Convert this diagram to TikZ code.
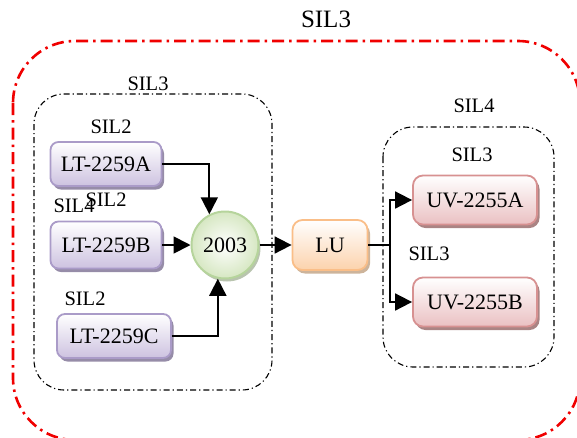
\documentclass[tikz,border=0pt]{standalone}
\usepackage{fontspec}
\setmainfont{Liberation Serif}
\usetikzlibrary{arrows.meta,shadows}

\definecolor{purpleline}{RGB}{170,155,200}
\definecolor{purplefill}{RGB}{205,194,224}
\definecolor{purpleshadow}{RGB}{150,140,168}
\definecolor{greenline}{RGB}{182,212,156}
\definecolor{greenfill}{RGB}{214,231,194}
\definecolor{greenshadow}{RGB}{185,196,175}
\definecolor{orangeline}{RGB}{250,190,136}
\definecolor{orangefill}{RGB}{252,210,172}
\definecolor{orangeshadow}{RGB}{205,180,155}
\definecolor{redline}{RGB}{215,145,145}
\definecolor{redfill}{RGB}{234,192,194}
\definecolor{redshadow}{RGB}{170,132,132}
\definecolor{zonered}{RGB}{240,0,0}

\tikzset{
  unitbox/.style={rounded corners=8pt, line width=1.8pt, inner sep=0pt,
    font=\fontsize{22}{25}\selectfont},
  sensorbox/.style={unitbox, draw=purpleline, top color=white, bottom color=purplefill,
    minimum width=111pt, minimum height=44pt,
    drop shadow={shadow xshift=2.5pt, shadow yshift=-3.5pt, fill=purpleshadow, opacity=1}},
  logicbox/.style={unitbox, draw=orangeline, top color=white, bottom color=orangefill,
    minimum width=75pt, minimum height=50pt, rounded corners=10pt,
    drop shadow={shadow xshift=2.5pt, shadow yshift=-3.5pt, fill=orangeshadow, opacity=1}},
  valvebox/.style={unitbox, draw=redline, top color=white, bottom color=redfill,
    minimum width=124pt, minimum height=49pt, rounded corners=10pt,
    drop shadow={shadow xshift=2.5pt, shadow yshift=-3.5pt, fill=redshadow, opacity=1}},
  voter/.style={circle, draw=greenline, line width=2pt, inner sep=0pt,
    minimum size=67pt, inner color=white, outer color=greenfill,
    font=\fontsize{22}{25}\selectfont,
    drop shadow={shadow xshift=2pt, shadow yshift=-3pt, fill=greenshadow, opacity=1}},
  silmark/.style={font=\fontsize{20.5}{23}\selectfont, inner sep=0pt},
  zone/.style={draw=black, line width=1.1pt, rounded corners=30pt,
    dash pattern=on 6pt off 3pt on 1.2pt off 3pt},
  outerzone/.style={draw=zonered, line width=2.6pt, rounded corners=62pt,
    dash pattern=on 12pt off 5pt on 2.5pt off 5pt},
  flow/.style={draw=black, line width=1.8pt,
    -{Triangle[length=17pt,width=17pt]}},
  plainflow/.style={draw=black, line width=1.8pt},
}

\begin{document}
\begin{tikzpicture}[x=1pt,y=-1pt]
  \useasboundingbox (0,0) rectangle (577,437);
  \clip (0,0) rectangle (577,437);

  % safety zones
  \draw[outerzone] (13,41) rectangle (580,440);
  \draw[zone] (34,94) rectangle (272,390);
  \draw[zone] (383,127) rectangle (554,367);
  \node[inner sep=0pt, font=\fontsize{25}{28}\selectfont] (tSys) at (326,19) {SIL3};
  \node[silmark] (tIn) at (148,84) {SIL3};
  \node[silmark] (tOut) at (474,106) {SIL4};

  % transmitters
  \node[sensorbox] (A) at (106,164) {LT-2259A};
  \node[sensorbox, minimum height=47pt] (B) at (106,245) {LT-2259B};
  \node[sensorbox, minimum width=114pt] (C) at (114,336) {LT-2259C};
  \node[silmark] (sA) at (111,127) {SIL2};
  \node[silmark] (sB4) at (74,206) {SIL4};
  \node[silmark] (sB) at (106,200) {SIL2};
  \node[silmark] (sC) at (85,299) {SIL2};

  % voting, logic, final elements
  \node[voter] (V) at (225,245) {2003};
  \node[logicbox] (LU) at (330,245) {LU};
  \node[valvebox] (UA) at (475,200) {UV-2255A};
  \node[valvebox] (UB) at (475,302) {UV-2255B};
  \node[silmark] (sUA) at (472,155) {SIL3};
  \node[silmark] (sUB) at (429,254) {SIL3};

  % signal lines
  \draw[flow] (A.east) -| (V.117);
  \draw[flow] (B.east) -- (V.west);
  \draw[flow] (C.east) -| (V.258);
  \draw[flow] (V.east) -- (LU.west);
  \coordinate (J) at (390,245);
  \draw[plainflow] (LU.east) -- (J);
  \draw[flow] (J) |- (UA.west);
  \draw[flow] (J) |- (UB.west);
\end{tikzpicture}
\end{document}
